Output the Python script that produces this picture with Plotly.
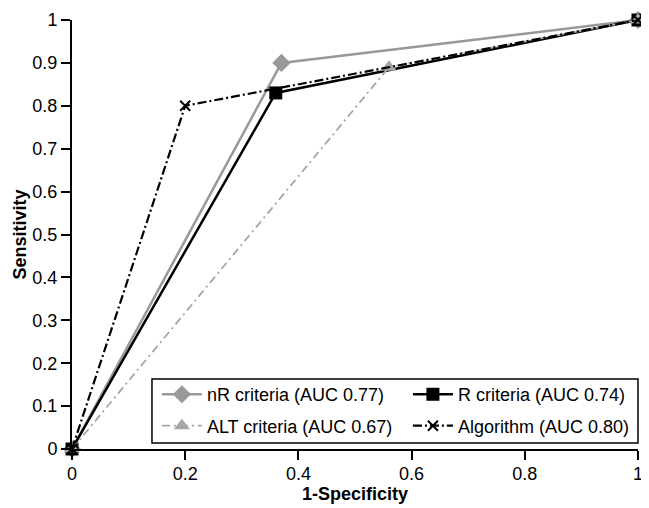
import plotly.graph_objects as go

x_nr = [0, 0.37, 1]
y_nr = [0, 0.90, 1]
x_r = [0, 0.36, 1]
y_r = [0, 0.83, 1]
x_alt = [0, 0.56, 1]
y_alt = [0, 0.89, 1]
x_alg = [0, 0.20, 1]
y_alg = [0, 0.80, 1]

names = ["nR criteria (AUC 0.77)", "R criteria (AUC 0.74)",
         "ALT criteria (AUC 0.67)", "Algorithm (AUC 0.80)"]

fig = go.Figure()
fig.add_trace(go.Scatter(x=x_nr, y=y_nr, name=names[0], mode="lines+markers",
                         legend="legend", legendgroup="a",
                         line=dict(color="#999999", width=2.5),
                         marker=dict(symbol="diamond", size=14, color="#999999"),
                         cliponaxis=False))
fig.add_trace(go.Scatter(x=x_r, y=y_r, name=names[1], mode="lines+markers",
                         legend="legend2", legendgroup="b",
                         line=dict(color="black", width=2.5),
                         marker=dict(symbol="square", size=13, color="black"),
                         cliponaxis=False))
fig.add_trace(go.Scatter(x=x_alt, y=y_alt, name=names[2], mode="lines+markers",
                         legend="legend", legendgroup="c",
                         line=dict(color="#a6a6a6", width=1.8, dash="8px,4px,2px,4px"),
                         marker=dict(symbol="triangle-up", size=14, color="#a6a6a6"),
                         cliponaxis=False))
fig.add_trace(go.Scatter(x=x_alg, y=y_alg, name=names[3], mode="lines+markers",
                         legend="legend2", legendgroup="d",
                         line=dict(color="black", width=2.2, dash="9px,3px,2px,3px"),
                         marker=dict(symbol="x-thin", size=10, color="black",
                                     line=dict(width=2, color="black")),
                         cliponaxis=False))

font = "Liberation Sans, Arial, sans-serif"
axis_common = dict(range=[0, 1], showgrid=False, zeroline=False, showline=True,
                   linecolor="black", linewidth=2, ticks="outside", ticklen=9,
                   tickwidth=2, tickcolor="black", automargin=False,
                   tickfont=dict(family=font, size=18, color="black"))

leg_common = dict(orientation="v", yanchor="top", y=0.170, xanchor="left",
                  bgcolor="rgba(0,0,0,0)", borderwidth=0,
                  itemwidth=40, tracegroupgap=5,
                  font=dict(family=font, size=18, color="black"))

# the page body adds an 8px offset, so the figure is sized/margined to compensate
fig.update_layout(
    width=641, height=500,
    margin=dict(l=64, r=11, t=12, b=59, autoexpand=False),
    plot_bgcolor="white", paper_bgcolor="white",
    font=dict(family=font, size=18, color="black"),
    xaxis=dict(**axis_common, dtick=0.2, ticklabelstandoff=-2,
               title=dict(text="<b>1-Specificity</b>", font=dict(family=font, size=18),
                          standoff=0)),
    yaxis=dict(**axis_common, dtick=0.1,
               title=dict(text="<b>Sensitivity</b>", font=dict(family=font, size=18),
                          standoff=1)),
    legend=dict(**leg_common, x=0.150),
    legend2=dict(**leg_common, x=0.5935),
    shapes=[dict(type="rect", xref="paper", yref="paper",
                 x0=0.1413, x1=1.0, y0=0.014, y1=0.163,
                 line=dict(color="black", width=1.5), fillcolor="white",
                 layer="above")],
    showlegend=True,
)

fig.write_html("out.html")
